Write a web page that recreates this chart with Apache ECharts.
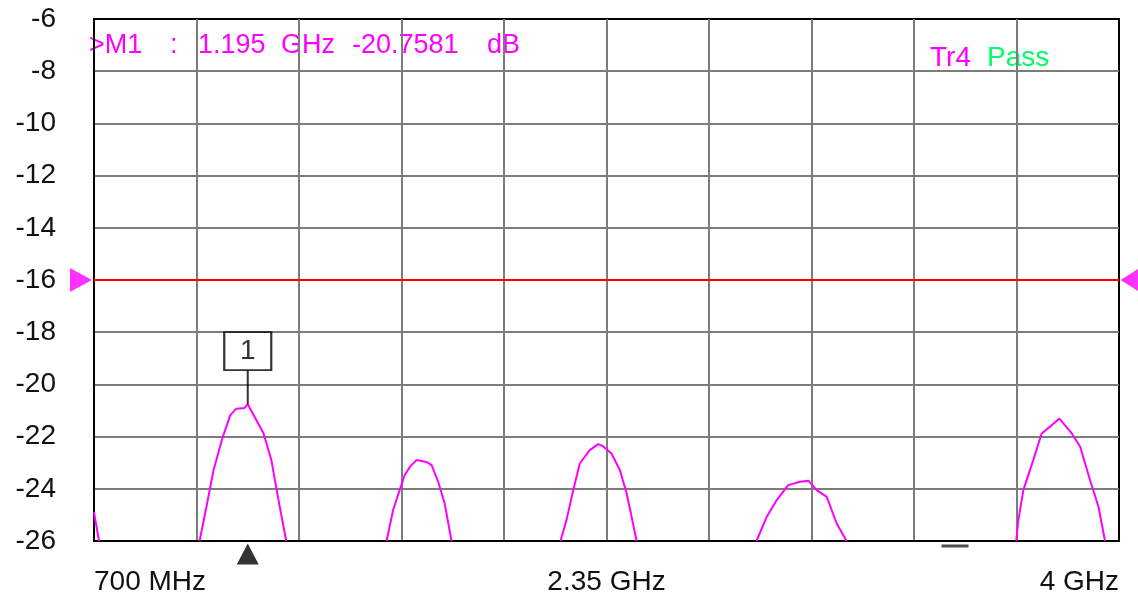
<!DOCTYPE html>
<html>
<head>
<meta charset="utf-8">
<script src="https://cdn.jsdelivr.net/npm/echarts@6/dist/echarts.min.js"></script>
<style>
html,body{margin:0;padding:0;background:#fff;}
#c{width:1138px;height:601px;}
</style>
</head>
<body>
<div id="c"></div>
<script>
// ---- data ----
const xMinMHz = 700, xMaxMHz = 4000;
const xTickValues = [700, 2350, 4000];
const xTickLabels = ['700 MHz', '2.35 GHz', '4 GHz'];
const yMin = -26, yMax = -6, yStep = 2;
const xDivisions = 10;

// trace (MHz, dB); null dB = trace below the visible range
const traceFreqMHz = [700, 716, 880,
  1040, 1062, 1085, 1113, 1139, 1158, 1185, 1195, 1223, 1246, 1271, 1298, 1319, 1480,
  1642, 1663, 1684, 1700, 1717, 1738, 1770, 1787, 1808, 1829, 1851, 2020,
  2202, 2221, 2243, 2264, 2296, 2323, 2339, 2366, 2393, 2415, 2447, 2640,
  2833, 2866, 2898, 2935, 2973, 3000, 3027, 3059, 3091, 3123, 3400,
  3669, 3676, 3692, 3724, 3751, 3784, 3808, 3848, 3875, 3907, 3934, 3955];
const traceDb = [-24.9, -26, null,
  -26, -24.69, -23.28, -22.07, -21.18, -20.93, -20.9, -20.7581, -21.37, -21.88, -22.9, -24.69, -26, null,
  -26, -24.81, -24.05, -23.48, -23.16, -22.9, -22.97, -23.09, -23.73, -24.56, -26, null,
  -26, -25.2, -24.05, -23.03, -22.52, -22.29, -22.37, -22.65, -23.28, -24.18, -26, null,
  -26, -25.07, -24.43, -23.86, -23.73, -23.69, -24.05, -24.31, -25.33, -26, null,
  -26, -25.2, -24.05, -22.9, -21.88, -21.56, -21.31, -21.88, -22.39, -23.67, -24.69, -26];

const limitDb = -16;
const marker1 = { name: '1', freqMHz: 1195, db: -20.7581 };
const dashMarkFreqMHz = 3472;

// ---- chart ----
const traceData = traceFreqMHz.map((f, i) => [f, traceDb[i]]);
const labelMap = {};
xTickValues.forEach((v, i) => labelMap[v] = xTickLabels[i]);

const FONT = 'Liberation Sans, Arial, sans-serif';
const GRID_GRAY = '#7c7c7c';

const chart = echarts.init(document.getElementById('c'), null, { renderer: 'canvas' });
chart.setOption({
  animation: false,
  backgroundColor: '#fff',
  grid: { left: 94, right: 19, top: 19, bottom: 60, show: true, borderColor: '#000', borderWidth: 2, backgroundColor: 'transparent' },
  xAxis: [
    {
      type: 'value', min: xMinMHz, max: xMaxMHz, position: 'bottom',
      axisLine: { show: true, onZero: false, lineStyle: { color: '#000', width: 2 } },
      axisTick: { show: false },
      splitLine: { show: false },
      axisLabel: {
        customValues: xTickValues,
        formatter: v => labelMap[v] || '',
        alignMinLabel: 'left', alignMaxLabel: 'right',
        margin: 27, fontSize: 28, color: '#111', fontFamily: FONT
      }
    },
    {
      type: 'value', min: 0, max: xDivisions, interval: 1, position: 'top',
      axisLine: { show: false }, axisTick: { show: false }, axisLabel: { show: false },
      splitLine: { show: true, showMinLine: false, showMaxLine: false, lineStyle: { color: GRID_GRAY, width: 2 } }
    }
  ],
  yAxis: {
    type: 'value', min: yMin, max: yMax, interval: yStep,
    axisLine: { show: true, onZero: false, lineStyle: { color: '#000', width: 2 } },
    axisTick: { show: false },
    splitLine: { show: true, showMinLine: false, showMaxLine: false, lineStyle: { color: GRID_GRAY, width: 2 } },
    axisLabel: { margin: 38, fontSize: 28, color: '#111', fontFamily: FONT, showMinLabel: true, showMaxLabel: true }
  },
  series: [
    {
      type: 'line', name: 'Tr4', data: traceData, showSymbol: false, symbol: 'none',
      connectNulls: false, clip: true, z: 5,
      lineStyle: { color: '#ff00ff', width: 2 }
    },
    {
      type: 'line', name: 'limit', data: [[xMinMHz, limitDb], [xMaxMHz, limitDb]],
      symbol: 'none', z: 4, lineStyle: { color: '#ff0000', width: 2 }
    },
    {
      type: 'scatter', data: [[xMinMHz, limitDb]], clip: false, z: 6,
      symbol: 'path://M0,0L1,0.5L0,1Z', symbolSize: [22, 24], symbolOffset: [-13, 0],
      itemStyle: { color: '#ff00ff' }, silent: true
    },
    {
      type: 'scatter', data: [[xMaxMHz, limitDb]], clip: false, z: 6,
      symbol: 'path://M1,0L0,0.5L1,1Z', symbolSize: [19, 24], symbolOffset: [11, 0],
      itemStyle: { color: '#ff00ff' }, silent: true
    },
    {
      type: 'scatter', data: [[marker1.freqMHz, yMin]], clip: false, z: 6,
      symbol: 'triangle', symbolSize: [22, 21], symbolOffset: [0, 13],
      itemStyle: { color: '#000' }, silent: true
    },
    {
      type: 'scatter', data: [[dashMarkFreqMHz, yMin]], clip: false, z: 6,
      symbol: 'rect', symbolSize: [27, 3], symbolOffset: [0, 5],
      itemStyle: { color: '#222' }, silent: true
    },
    {
      type: 'scatter', data: [[marker1.freqMHz, marker1.db]], clip: false, z: 7,
      symbol: 'rect', symbolSize: [2, 34], symbolOffset: [0, -17],
      itemStyle: { color: '#000' }, silent: true
    },
    {
      type: 'scatter', data: [[marker1.freqMHz, marker1.db]], clip: false, z: 8,
      symbol: 'rect', symbolSize: [47, 38], symbolOffset: [0, -53],
      itemStyle: { color: '#fff', borderColor: '#000', borderWidth: 2 },
      label: { show: true, position: 'inside', formatter: marker1.name, fontSize: 28, color: '#000', fontFamily: FONT },
      silent: true
    }
  ],
  graphic: [
    { type: 'text', left: 89, top: 32, style: { text: '>M1', fontSize: 27, fontFamily: FONT, fill: '#ff00ff' } },
    { type: 'text', left: 170, top: 32, style: { text: ':', fontSize: 27, fontFamily: FONT, fill: '#ff00ff' } },
    { type: 'text', left: 198, top: 32, style: { text: '1.195', fontSize: 27, fontFamily: FONT, fill: '#ff00ff' } },
    { type: 'text', left: 281, top: 32, style: { text: 'GHz', fontSize: 27, fontFamily: FONT, fill: '#ff00ff' } },
    { type: 'text', left: 352, top: 32, style: { text: '-20.7581', fontSize: 27, fontFamily: FONT, fill: '#ff00ff' } },
    { type: 'text', left: 487, top: 32, style: { text: 'dB', fontSize: 27, fontFamily: FONT, fill: '#ff00ff' } },
    { type: 'text', left: 930, top: 44, style: { text: 'Tr4', fontSize: 28, fontFamily: FONT, fill: '#ff00ff' } },
    { type: 'text', left: 987, top: 44, style: { text: 'Pass', fontSize: 28, fontFamily: FONT, fill: '#00ff66' } }
  ]
});
</script>
</body>
</html>
